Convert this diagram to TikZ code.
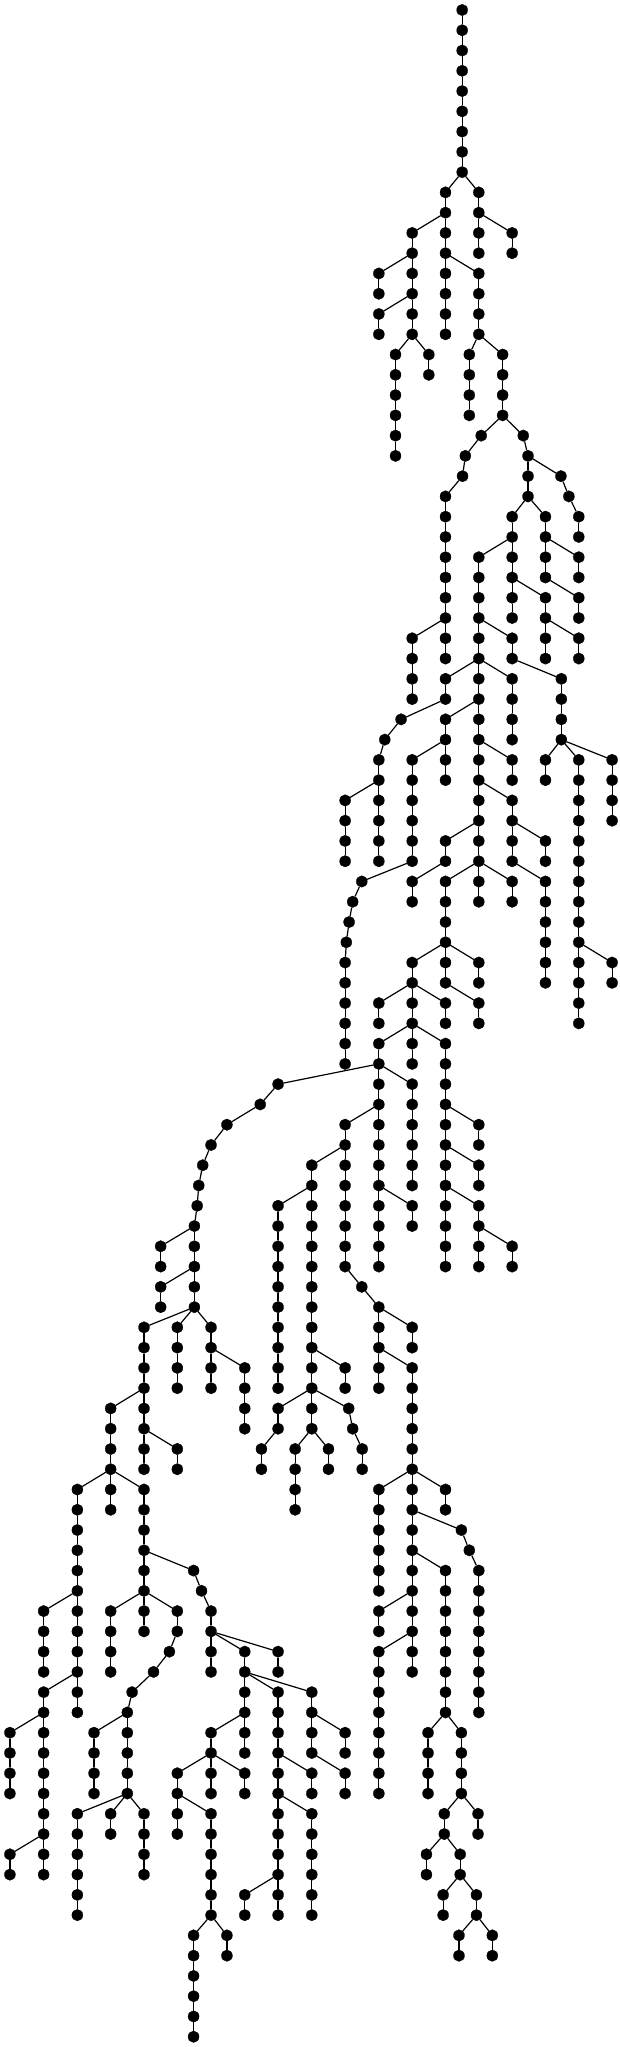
\documentclass[tikz,border=0pt]{standalone}
\usetikzlibrary{shapes.geometric}
\begin{document}
\begin{tikzpicture}[x=0.3967pt,y=-20.267pt,
  dot/.style={ellipse,fill=black,draw=black,line width=0.3pt,inner sep=0pt,minimum width=11pt,minimum height=11.5pt},
  lnk/.style={line width=1.2pt,black}]
\useasboundingbox (0pt,10pt) rectangle (619pt,-2037pt);
\node[dot] (n0x1165) at (1165,0) {};
\foreach \rr/\xx/\pr/\pq in {
1/1165/0/1165, 2/1165/1/1165, 3/1165/2/1165, 4/1165/3/1165, 5/1165/4/1165, 6/1165/5/1165, 7/1165/6/1165, 8/1165/7/1165,
9/1123/8/1165, 9/1207/8/1165,
10/1123/9/1123, 10/1207/9/1207,
11/1039/10/1123, 11/1123/10/1123, 11/1207/10/1207, 11/1291/10/1207,
12/1039/11/1039, 12/1123/11/1123, 12/1207/11/1207, 12/1291/11/1291,
13/955/12/1039, 13/1039/12/1039, 13/1123/12/1123, 13/1207/12/1123,
14/955/13/955, 14/1039/13/1039, 14/1123/13/1123, 14/1207/13/1207,
15/955/14/1039, 15/1039/14/1039, 15/1123/14/1123, 15/1207/14/1207,
16/955/15/955, 16/1039/15/1039, 16/1123/15/1123, 16/1207/15/1207,
17/997/16/1039, 17/1081/16/1039, 17/1183/16/1207, 17/1267/16/1207,
18/997/17/997, 18/1081/17/1081, 18/1183/17/1183, 18/1267/17/1267,
19/997/18/997, 19/1183/18/1183, 19/1267/18/1267,
20/997/19/997, 20/1183/19/1183, 20/1267/19/1267,
21/997/20/997, 21/1213/20/1267, 21/1319/20/1267,
22/997/21/997, 22/1173/21/1213, 22/1331/21/1319,
23/1166/22/1173, 23/1331/22/1331, 23/1414/22/1331,
24/1123/23/1166, 24/1331/23/1331, 24/1434/23/1414,
25/1123/24/1123, 25/1291/24/1331, 25/1375/24/1331, 25/1459/24/1434,
26/1123/25/1123, 26/1291/25/1291, 26/1375/25/1375, 26/1459/25/1459,
27/1123/26/1123, 27/1207/26/1291, 27/1291/26/1291, 27/1375/26/1375, 27/1459/26/1375,
28/1123/27/1123, 28/1207/27/1207, 28/1291/27/1291, 28/1375/27/1375, 28/1459/27/1459,
29/1123/28/1123, 29/1207/28/1207, 29/1291/28/1291, 29/1375/28/1291, 29/1459/28/1375,
30/1123/29/1123, 30/1207/29/1207, 30/1291/29/1291, 30/1375/29/1375, 30/1459/29/1459,
31/1039/30/1123, 31/1123/30/1123, 31/1207/30/1207, 31/1291/30/1207, 31/1375/30/1375, 31/1459/30/1375,
32/1039/31/1039, 32/1123/31/1123, 32/1207/31/1207, 32/1291/31/1291, 32/1375/31/1375, 32/1459/31/1459,
33/1039/32/1039, 33/1123/32/1207, 33/1207/32/1207, 33/1291/32/1207, 33/1415/32/1291,
34/1039/33/1039, 34/1123/33/1123, 34/1207/33/1207, 34/1291/33/1291, 34/1415/33/1415,
35/1011/34/1123, 35/1123/34/1207, 35/1207/34/1207, 35/1291/34/1291, 35/1415/34/1415,
36/970/35/1011, 36/1123/35/1123, 36/1207/35/1207, 36/1291/35/1291, 36/1415/35/1415,
37/955/36/970, 37/1039/36/1123, 37/1123/36/1123, 37/1207/36/1207, 37/1291/36/1207, 37/1375/36/1415, 37/1459/36/1415, 37/1543/36/1415,
38/955/37/955, 38/1039/37/1039, 38/1123/37/1123, 38/1207/37/1207, 38/1291/37/1291, 38/1375/37/1375, 38/1459/37/1459, 38/1543/37/1543,
39/870/38/955, 39/955/38/955, 39/1039/38/1039, 39/1207/38/1207, 39/1291/38/1207, 39/1459/38/1459, 39/1543/38/1543,
40/870/39/870, 40/955/39/955, 40/1039/39/1039, 40/1207/39/1207, 40/1291/39/1291, 40/1459/39/1459, 40/1543/39/1543,
41/870/40/870, 41/955/40/955, 41/1039/40/1039, 41/1123/40/1207, 41/1207/40/1207, 41/1291/40/1291, 41/1375/40/1291, 41/1459/40/1459,
42/870/41/870, 42/955/41/955, 42/1039/41/1039, 42/1123/41/1123, 42/1207/41/1207, 42/1291/41/1291, 42/1375/41/1375, 42/1459/41/1459,
43/912/42/1039, 43/1039/42/1123, 43/1123/42/1207, 43/1207/42/1207, 43/1291/42/1207, 43/1375/42/1291, 43/1459/42/1459,
44/889/43/912, 44/1039/43/1039, 44/1123/43/1123, 44/1207/43/1207, 44/1291/43/1291, 44/1375/43/1375, 44/1459/43/1459,
45/880/44/889, 45/1123/44/1123, 45/1375/44/1375, 45/1459/44/1459,
46/873/45/880, 46/1123/45/1123, 46/1375/45/1375, 46/1459/45/1459,
47/870/46/873, 47/1039/46/1123, 47/1123/46/1123, 47/1207/46/1123, 47/1375/46/1375, 47/1459/46/1459, 47/1543/46/1459,
48/870/47/870, 48/1039/47/1039, 48/1123/47/1123, 48/1207/47/1207, 48/1375/47/1375, 48/1459/47/1459, 48/1543/47/1543,
49/870/48/870, 49/955/48/1039, 49/1039/48/1039, 49/1123/48/1039, 49/1207/48/1123, 49/1459/48/1459,
50/870/49/870, 50/955/49/955, 50/1039/49/1039, 50/1123/49/1123, 50/1207/49/1207, 50/1459/49/1459,
51/870/50/870, 51/955/50/1039, 51/1039/50/1039, 51/1123/50/1039,
52/870/51/870, 52/955/51/955, 52/1039/51/1039, 52/1123/51/1123,
53/701/52/955, 53/955/52/955, 53/1039/52/955, 53/1123/52/1123,
54/656/53/701, 54/955/53/955, 54/1039/53/1039, 54/1123/53/1123,
55/572/54/656, 55/870/54/955, 55/955/54/955, 55/1039/54/1039, 55/1123/54/1123, 55/1207/54/1123,
56/532/55/572, 56/870/55/870, 56/955/55/955, 56/1039/55/1039, 56/1123/55/1123, 56/1207/55/1207,
57/511/56/532, 57/786/56/870, 57/870/56/870, 57/955/56/955, 57/1039/56/1039, 57/1123/56/1123, 57/1207/56/1123,
58/501/57/511, 58/786/57/786, 58/870/57/870, 58/955/57/955, 58/1039/57/1039, 58/1123/57/1123, 58/1207/57/1207,
59/497/58/501, 59/701/58/786, 59/786/58/786, 59/870/58/870, 59/955/58/955, 59/1039/58/955, 59/1123/58/1123, 59/1207/58/1123,
60/490/59/497, 60/701/59/701, 60/786/59/786, 60/870/59/870, 60/955/59/955, 60/1039/59/1039, 60/1123/59/1123, 60/1207/59/1207,
61/405/60/490, 61/490/60/490, 61/701/60/701, 61/786/60/786, 61/870/60/870, 61/955/60/955, 61/1123/60/1123, 61/1207/60/1207, 61/1291/60/1207,
62/405/61/405, 62/490/61/490, 62/701/61/701, 62/786/61/786, 62/870/61/870, 62/955/61/955, 62/1123/61/1123, 62/1207/61/1207, 62/1291/61/1291,
63/405/62/490, 63/490/62/490, 63/701/62/701, 63/786/62/786, 63/912/62/870,
64/405/63/405, 64/490/63/490, 64/701/63/701, 64/786/63/786, 64/955/63/912,
65/363/64/490, 65/447/64/490, 65/532/64/490, 65/701/64/701, 65/786/64/786, 65/955/64/955, 65/1039/64/955,
66/363/65/363, 66/447/65/447, 66/532/65/532, 66/701/65/701, 66/786/65/786, 66/955/65/955, 66/1039/65/1039,
67/363/66/363, 67/447/66/447, 67/532/66/532, 67/617/66/532, 67/701/66/701, 67/786/66/786, 67/870/66/786, 67/955/66/955, 67/1039/66/955,
68/363/67/363, 68/447/67/447, 68/532/67/532, 68/617/67/617, 68/701/67/701, 68/786/67/786, 68/870/67/870, 68/955/67/955, 68/1039/67/1039,
69/279/68/363, 69/363/68/363, 69/617/68/617, 69/701/68/786, 69/786/68/786, 69/879/68/786, 69/1039/68/1039,
70/279/69/279, 70/363/69/363, 70/617/69/617, 70/701/69/701, 70/786/69/786, 70/889/69/879, 70/1039/69/1039,
71/279/70/279, 71/363/70/363, 71/447/70/363, 71/659/70/701, 71/744/70/786, 71/828/70/786, 71/913/70/889, 71/1039/70/1039,
72/279/71/279, 72/363/71/363, 72/447/71/447, 72/659/71/659, 72/744/71/744, 72/828/71/828, 72/913/71/913, 72/1039/71/1039,
73/195/72/279, 73/279/72/279, 73/363/72/279, 73/744/72/744, 73/955/72/1039, 73/1039/72/1039, 73/1123/72/1039,
74/195/73/195, 74/279/73/279, 74/363/73/363, 74/744/73/744, 74/955/73/955, 74/1039/73/1039, 74/1123/73/1123,
75/195/74/195, 75/363/74/363, 75/955/74/955, 75/1039/74/1039, 75/1163/74/1039,
76/195/75/195, 76/363/75/363, 76/955/75/955, 76/1039/75/1039, 76/1183/75/1163,
77/195/76/195, 77/363/76/363, 77/488/76/363, 77/955/76/955, 77/1039/76/1039, 77/1123/76/1039, 77/1207/76/1183,
78/195/77/195, 78/363/77/363, 78/508/77/488, 78/955/77/955, 78/1039/77/1039, 78/1123/77/1123, 78/1207/77/1207,
79/110/78/195, 79/195/78/195, 79/279/78/363, 79/363/78/363, 79/447/78/363, 79/532/78/508, 79/955/78/1039, 79/1039/78/1039, 79/1123/78/1123, 79/1207/78/1207,
80/110/79/110, 80/195/79/195, 80/279/79/279, 80/363/79/363, 80/447/79/447, 80/532/79/532, 80/955/79/955, 80/1039/79/1039, 80/1123/79/1123, 80/1207/79/1207,
81/110/80/110, 81/195/80/195, 81/279/80/279, 81/427/80/447, 81/532/80/532, 81/617/80/532, 81/701/80/532, 81/955/80/1039, 81/1039/80/1039, 81/1123/80/1123, 81/1207/80/1207,
82/110/81/110, 82/195/81/195, 82/279/81/279, 82/387/81/427, 82/532/81/532, 82/617/81/617, 82/701/81/701, 82/955/81/955, 82/1039/81/1039, 82/1123/81/1123, 82/1207/81/1207,
83/110/82/195, 83/195/82/195, 83/333/82/387, 83/617/82/617, 83/701/82/617, 83/786/82/617, 83/955/82/955, 83/1123/82/1123, 83/1207/82/1207,
84/110/83/110, 84/195/83/195, 84/321/83/333, 84/617/83/617, 84/701/83/701, 84/786/83/786, 84/955/83/955, 84/1123/83/1123, 84/1207/83/1207,
85/25/84/110, 85/110/84/110, 85/237/84/321, 85/321/84/321, 85/532/84/617, 85/617/84/617, 85/701/84/701, 85/786/84/786, 85/870/84/786, 85/955/84/955, 85/1079/84/1123, 85/1163/84/1123,
86/25/85/25, 86/110/85/110, 86/237/85/237, 86/321/85/321, 86/532/85/532, 86/617/85/617, 86/701/85/701, 86/786/85/786, 86/870/85/870, 86/955/85/955, 86/1079/85/1079, 86/1163/85/1163,
87/25/86/25, 87/110/86/110, 87/237/86/237, 87/321/86/321, 87/447/86/532, 87/532/86/532, 87/617/86/532, 87/701/86/701, 87/786/86/701, 87/870/86/786, 87/955/86/955, 87/1079/86/1079, 87/1163/86/1163,
88/25/87/25, 88/110/87/110, 88/237/87/237, 88/321/87/321, 88/447/87/447, 88/532/87/532, 88/617/87/617, 88/701/87/701, 88/786/87/786, 88/870/87/870, 88/955/87/955, 88/1079/87/1079, 88/1163/87/1163,
89/110/88/110, 89/195/88/321, 89/279/88/321, 89/363/88/321, 89/447/88/447, 89/532/88/447, 89/701/88/701, 89/786/88/701, 89/1120/88/1163, 89/1205/88/1163,
90/110/89/110, 90/195/89/195, 90/279/89/279, 90/363/89/363, 90/447/89/447, 90/532/89/532, 90/701/89/701, 90/786/89/786, 90/1120/89/1120, 90/1205/89/1205,
91/25/90/110, 91/110/90/110, 91/195/90/195, 91/363/90/363, 91/532/90/532, 91/701/90/701, 91/786/90/786, 91/1075/90/1120, 91/1160/90/1120,
92/25/91/25, 92/110/91/110, 92/195/91/195, 92/363/91/363, 92/532/91/532, 92/701/91/701, 92/786/91/786, 92/1075/91/1075, 92/1160/91/1160,
93/195/92/195, 93/532/92/532, 93/617/92/701, 93/701/92/701, 93/786/92/786, 93/1117/92/1160, 93/1201/92/1160,
94/195/93/195, 94/532/93/532, 94/617/93/617, 94/701/93/701, 94/786/93/786, 94/1117/93/1117, 94/1201/93/1201,
95/488/94/532, 95/572/94/532, 95/1157/94/1201, 95/1241/94/1201,
96/488/95/488, 96/572/95/572, 96/1157/95/1157, 96/1241/95/1241,
97/488/96/488, 98/488/97/488, 99/488/98/488, 100/488/99/488}{
  \node[dot] (n\rr x\xx) at (\xx,\rr) {};
  \draw[lnk] (n\pr x\pq) -- (n\rr x\xx);
}
\end{tikzpicture}
\end{document}
